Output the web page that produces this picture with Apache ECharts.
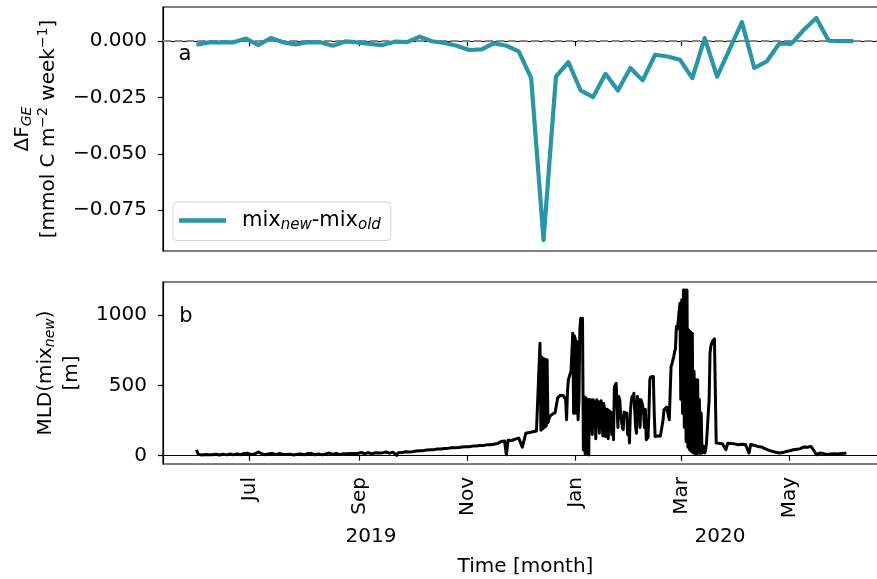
<!DOCTYPE html>
<html>
<head>
<meta charset="utf-8">
<script src="https://cdn.jsdelivr.net/npm/echarts@6/dist/echarts.min.js"></script>
<style>
  html, body { margin: 0; padding: 0; background: #fff; }
  #chart { width: 877px; height: 579px; }
</style>
</head>
<body>
<div id="chart"></div>
<script>
// Weekly air-sea gas-exchange flux difference between the two mixing schemes
const fluxStart = '2019-06-01';
const fluxDiff = [
  -0.0016, -0.0005, -0.0005, -0.0005, 0.0012, -0.0017, 0.0014, -0.0005, -0.0014, -0.0004,
  -0.0005, -0.0020, -0.0001, -0.0005, -0.0012, -0.0017, -0.0002, -0.0004, 0.0020, 0.0000,
  -0.0008, -0.0020, -0.0039, -0.0036, -0.0009, -0.0020, -0.0045, -0.0164, -0.0883, -0.0157,
  -0.0093, -0.0219, -0.0248, -0.0145, -0.0219, -0.0119, -0.0174, -0.0060, -0.0068, -0.0082,
  -0.0164, 0.0014, -0.0157, -0.0036, 0.0085, -0.0119, -0.0090, -0.0011, -0.0011, 0.0051,
  0.0103, 0.0002, 0.0000, 0.0000
];

// Mixed-layer depth (new mixing scheme), metres.
// Daily values through summer and autumn
const mldDailyStart = '2019-06-01';
const mldDaily = [
  42, 10, 6, 5, 7, 8, 5, 6, 9, 6,
  7, 10, 8, 5, 8, 11, 7, 6, 9, 12,
  9, 6, 10, 13, 9, 7, 11, 16, 22, 17,
  12, 8, 10, 13, 18, 26, 19, 13, 9, 7,
  10, 14, 19, 15, 11, 8, 12, 16, 11, 9,
  6, 9, 13, 10, 7, 5, 8, 11, 15, 12,
  8, 6, 10, 16, 21, 15, 10, 7, 9, 13,
  9, 6, 8, 12, 16, 19, 13, 9, 12, 16,
  11, 8, 10, 14, 18, 13, 10, 15, 20, 16,
  12, 15, 19, 23, 17, 14, 18, 22, 16, 13,
  17, 21, 24, 19, 16, 20, 23, 26, 21, 18,
  22, 25, 20, 2, 21, 24, 22, 26, 28, 25,
  27, 29, 28, 31, 33, 32, 35, 37, 36, 38,
  40, 39, 42, 44, 43, 45, 47, 46, 48, 50,
  51, 53, 52, 54, 56, 55, 57, 59, 58, 60,
  62, 61, 63, 65, 64, 66, 68, 67, 69, 71,
  72, 74, 73, 75, 77, 79, 78, 80, 82, 84,
  86, 92, 101, 98, 104, 7, 110, 113, 108, 116,
  118, 122, 125, 130, 60, 55, 160, 163, 165, 168,
  170, 172, 175, 180
];
// Twice-daily values through the deep winter convection period
const mldWinterStart = '2019-12-12';
const mldWinter = [
  799, 180, 700, 190, 690, 200, 685, 210, 681, 234,
  260, 279, 285, 290, 295, 300, 300, 305, 305, 305,
  411, 420, 425, 430, 432, 430, 428, 424, 420, 400,
  255, 450, 539, 560, 580, 598, 600, 870, 300, 850,
  822, 300, 810, 255, 400, 900, 976, 960, 976, 40,
  420, 10, 410, 20, 400, 5, 400, 380, 395, 150,
  397, 380, 360, 120, 397, 390, 380, 160, 370, 390,
  380, 140, 370, 330, 137, 300, 330, 120, 320, 240,
  310, 150, 300, 113, 491, 500, 515, 527, 200, 420,
  400, 300, 303, 200, 185, 310, 300, 303, 303, 150,
  250, 90, 300, 380, 420, 400, 444, 430, 200, 160,
  420, 300, 400, 200, 397, 380, 350, 300, 200, 330,
  113, 120, 130, 300, 540, 560, 562, 562, 562, 300,
  137, 137, 137, 140, 138, 137, 140, 138, 137, 255,
  326, 330, 340, 345, 350, 350, 255, 250, 633, 650,
  680, 700, 739, 760, 917, 900, 950, 964, 1082, 400,
  1106, 300, 1177, 200, 1177, 100, 1177, 60, 893, 40,
  880, 30, 870, 20, 600, 15, 539, 10, 539, 20,
  400, 15, 303, 19, 19, 66, 20, 40, 90, 90,
  90, 400, 728, 780, 800, 815, 822, 830, 834, 90
];
// Daily values through spring
const mldSpringStart = '2020-03-21';
const mldSpring = [
  90, 88, 92, 85, 90, 43,
  88, 92, 86, 90, 84, 88, 78, 85, 82, 86,
  80, 84, 20, 80, 78, 74, 70, 66, 66, 62,
  58, 50, 45, 40, 35, 31, 28, 25, 22, 19,
  18, 22, 25, 30, 28, 35, 40, 42, 38, 45,
  54, 50, 58, 62, 66, 60, 64, 66, 66, 30,
  7, 15, 19, 12, 15, 10, 8, 7, 12, 10,
  14, 16, 12, 18, 15, 19, 17, 19
];

// Tick positions and labels
const monthTicks = ['2019-07-01', '2019-09-01', '2019-11-01', '2020-01-01', '2020-03-01', '2020-05-01'];
const monthLabels = ['Jul', 'Sep', 'Nov', 'Jan', 'Mar', 'May'];
const yearLabels = ['2019', '2020'];
const fluxTicks = [0, -0.025, -0.05, -0.075];
const mldTicks = [0, 500, 1000];

const DAY = 86400000;
const toTime = s => Date.parse(s + 'T00:00:00Z');
const series = (start, stepDays, vals) => vals.map((v, i) => [toTime(start) + i * stepDays * DAY, v]);
const fluxData = series(fluxStart, 7, fluxDiff);
const mldData = [].concat(
  series(mldDailyStart, 1, mldDaily),
  series(mldWinterStart, 0.5, mldWinter),
  series(mldSpringStart, 1, mldSpring)
);
const tickTimes = monthTicks.map(toTime);

const xMin = Date.UTC(2019, 4, 13, 3);
const xMax = Date.UTC(2020, 5, 25, 12);

const FONT = 'DejaVu Sans';
const BLACK = '#000';
const TEAL = '#2a95a7';

const frameLine = { show: true, lineStyle: { color: BLACK, width: 1.2 } };
const tickStyle = (vals) => ({ show: true, customValues: vals, length: 5, inside: false, lineStyle: { color: BLACK, width: 1.2 } });
const minusFmt = (v, digits) => (v < 0 ? '\u2212' : '') + Math.abs(v).toFixed(digits);
const monthFmt = (v) => { const i = tickTimes.indexOf(v); return i >= 0 ? monthLabels[i] : ''; };

const chart = echarts.init(document.getElementById('chart'), null, { renderer: 'canvas' });

chart.setOption({
  animation: false,
  backgroundColor: '#fff',
  textStyle: { fontFamily: FONT },
  grid: [
    { left: 163, width: 725, top: 7, height: 244, outerBoundsMode: 'none', containLabel: false, show: true, borderColor: BLACK, borderWidth: 1.2, backgroundColor: 'transparent' },
    { left: 163, width: 725, top: 282, height: 182, outerBoundsMode: 'none', containLabel: false, show: true, borderColor: BLACK, borderWidth: 1.2, backgroundColor: 'transparent' }
  ],
  xAxis: [
    {
      type: 'value', gridIndex: 0, min: xMin, max: xMax, scale: true,
      axisLine: frameLine, axisTick: tickStyle(tickTimes),
      axisLabel: { show: false }, splitLine: { show: false }
    },
    {
      type: 'value', gridIndex: 1, min: xMin, max: xMax, scale: true,
      axisLine: frameLine, axisTick: tickStyle(tickTimes),
      axisLabel: {
        customValues: tickTimes, rotate: 90, margin: 13, fontSize: 20, color: BLACK, fontFamily: FONT,
        formatter: monthFmt
      },
      splitLine: { show: false },
      name: 'Time [month]', nameLocation: 'middle', nameGap: 93,
      nameTextStyle: { fontSize: 20, color: BLACK, fontFamily: FONT }
    }
  ],
  yAxis: [
    {
      type: 'value', gridIndex: 0, min: -0.0932, max: 0.0152,
      axisLine: frameLine, axisTick: tickStyle(fluxTicks),
      axisLabel: { customValues: fluxTicks, margin: 16, fontSize: 20, color: BLACK, fontFamily: FONT, formatter: (v) => minusFmt(v, 3) },
      splitLine: { show: false },
      name: '{a|\u0394F}{s|GE}\n{a|[mmol C m}{p|\u22122}{a| week}{p|\u22121}{a|]}',
      nameLocation: 'middle', nameRotate: 90, nameGap: 100,
      nameTextStyle: {
        color: BLACK, fontFamily: FONT, fontSize: 20, lineHeight: 26, align: 'center',
        rich: {
          a: { fontSize: 20, color: BLACK, fontFamily: FONT },
          s: { fontSize: 14, fontStyle: 'italic', color: BLACK, fontFamily: FONT, padding: [9, 0, 0, 0] },
          p: { fontSize: 14, color: BLACK, fontFamily: FONT, padding: [0, 0, 11, 0] }
        }
      }
    },
    {
      type: 'value', gridIndex: 1, min: -59, max: 1234,
      axisLine: frameLine, axisTick: tickStyle(mldTicks),
      axisLabel: { customValues: mldTicks, margin: 16, fontSize: 20, color: BLACK, fontFamily: FONT, formatter: (v) => String(v) },
      splitLine: { show: false },
      name: '{a|MLD(mix}{s|new}{a|)}\n{a|[m]}',
      nameLocation: 'middle', nameRotate: 90, nameGap: 70,
      nameTextStyle: {
        color: BLACK, fontFamily: FONT, fontSize: 20, lineHeight: 26, align: 'center',
        rich: {
          a: { fontSize: 20, color: BLACK, fontFamily: FONT },
          s: { fontSize: 14, fontStyle: 'italic', color: BLACK, fontFamily: FONT, padding: [9, 0, 0, 0] }
        }
      }
    }
  ],
  legend: {
    left: 173, top: 202, orient: 'vertical',
    data: ['mix_new-mix_old'],
    icon: 'rect', itemWidth: 47, itemHeight: 4.5,
    padding: [8, 10, 8, 6],
    borderColor: '#d3d3d3', borderWidth: 1, borderRadius: 4,
    backgroundColor: 'rgba(255,255,255,0.8)',
    selectedMode: false,
    formatter: () => '{a0|mix}{s|new}{a|-mix}{s|old}',
    textStyle: {
      fontSize: 21, color: BLACK, fontFamily: FONT,
      rich: {
        a0: { fontSize: 21, color: BLACK, fontFamily: FONT, padding: [0, 0, 0, 11] },
        a: { fontSize: 21, color: BLACK, fontFamily: FONT },
        s: { fontSize: 15, fontStyle: 'italic', color: BLACK, fontFamily: FONT, padding: [9, 0, 0, 0] }
      }
    }
  },
  graphic: [
    { type: 'text', x: 185, y: 55, style: { text: 'a', fontSize: 21, fill: BLACK, fontFamily: FONT, align: 'center', verticalAlign: 'middle' } },
    { type: 'text', x: 186, y: 317, style: { text: 'b', fontSize: 21, fill: BLACK, fontFamily: FONT, align: 'center', verticalAlign: 'middle' } },
    { type: 'text', x: 371, y: 537, style: { text: yearLabels[0], fontSize: 20, fill: BLACK, fontFamily: FONT, align: 'center', verticalAlign: 'middle' } },
    { type: 'text', x: 720, y: 537, style: { text: yearLabels[1], fontSize: 20, fill: BLACK, fontFamily: FONT, align: 'center', verticalAlign: 'middle' } }
  ],
  series: [
    {
      name: 'mix_new-mix_old', type: 'line', xAxisIndex: 0, yAxisIndex: 0,
      data: fluxData, showSymbol: false, symbol: 'none', z: 3,
      itemStyle: { color: TEAL },
      lineStyle: { color: TEAL, width: 4.2, join: 'round', cap: 'butt' },
      markLine: {
        silent: true, symbol: 'none', z: 1, label: { show: false },
        lineStyle: { color: '#888', width: 1.8, type: [8, 3.5] },
        data: [{ yAxis: 0 }]
      }
    },
    {
      name: 'MLD', type: 'line', xAxisIndex: 1, yAxisIndex: 1,
      data: mldData, showSymbol: false, symbol: 'none',
      lineStyle: { color: BLACK, width: 3, join: 'round' }
    }
  ]
});
</script>
</body>
</html>
